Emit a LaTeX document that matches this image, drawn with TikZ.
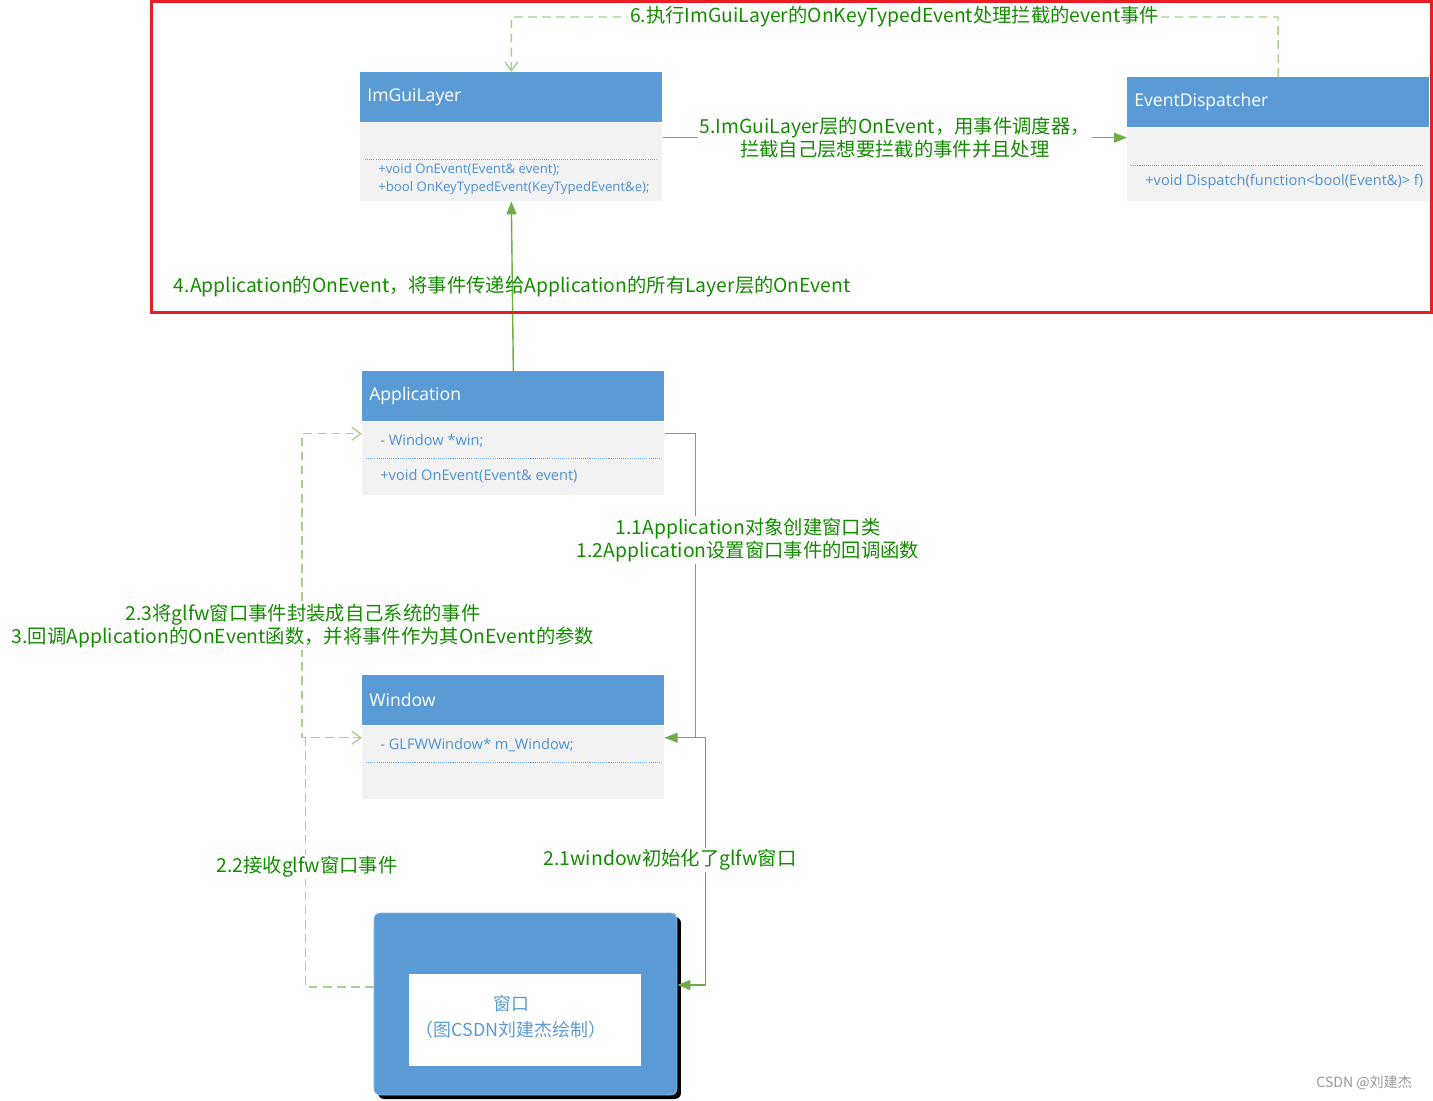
\documentclass[tikz,border=0pt]{standalone}
\usepackage{fontspec}
\usepackage{tikz}
\usetikzlibrary{positioning,arrows.meta,shadows}
\setmainfont{Open Sans}
\newfontfamily\cjk{Noto Sans CJK SC}
\definecolor{boxblue}{RGB}{91,155,213}
\definecolor{boxgray}{RGB}{242,242,242}
\definecolor{membblue}{RGB}{78,145,214}
\definecolor{linkgreen}{RGB}{112,173,71}
\definecolor{dashgreen}{RGB}{169,209,142}
\definecolor{lblgreen}{RGB}{20,140,0}
\definecolor{framered}{RGB}{237,28,36}

\begin{document}
\begin{tikzpicture}[x=0.02cm, y=-0.02cm,
    hdr/.style={anchor=north west, fill=boxblue, text=white, font=\fontsize{10}{12}\selectfont,
      minimum width=6.04cm, minimum height=1cm, text width=5.76cm, inner xsep=0.14cm, align=left},
    classbody/.style={fill=boxgray, minimum width=6.04cm, inner sep=0pt},
    member/.style={anchor=west, text=membblue, font=\fontsize{8.3}{10}\selectfont, inner sep=0pt},
    smallmember/.style={member, font=\fontsize{7.5}{9}\selectfont},
    sepline/.style={draw=membblue!80, line width=0.4pt, dash pattern=on 0.6pt off 0.6pt},
    solidlink/.style={draw=linkgreen, line width=0.8pt, -{Triangle[length=0.26cm, width=0.2cm]}},
    dashlink/.style={draw=dashgreen, line width=0.8pt, dash pattern=on 5pt off 3pt,
      -{Straight Barb[length=0.18cm, width=0.26cm]}},
    lbl/.style={text=lblgreen, font=\cjk\fontsize{11}{13.6}\selectfont, align=center, inner sep=1pt},
    glfwbox/.style={fill=boxblue, draw=boxblue!70, rounded corners=0.12cm,
      minimum width=6.06cm, minimum height=3.64cm,
      drop shadow={shadow xshift=0.08cm, shadow yshift=-0.08cm, fill=black, opacity=1}},
  ]
  \useasboundingbox (0,0) rectangle (1433,1100);

  % classes
  \node[hdr] (imgui) at (360,72) {ImGuiLayer};
  \node[classbody, minimum height=1.56cm, below=0pt of imgui] (imguib) {};
  \draw[sepline] (365,159) -- (657,159);
  \node[smallmember] (imguim1) at (378,170) {+void OnEvent(Event\& event);};
  \node[smallmember] (imguim2) at (378,188) {+bool OnKeyTypedEvent(KeyTypedEvent\&e);};

  \node[hdr] (disp) at (1127,77) {EventDispatcher};
  \node[classbody, minimum height=1.46cm, below=0pt of disp] (dispb) {};
  \draw[sepline] (1131,165) -- (1424,165);
  \node[member] (dispm1) at (1145,182) {+void Dispatch(function<bool(Event\&)> f)};

  \node[hdr] (app) at (362,371) {Application};
  \node[classbody, minimum height=1.46cm, below=0pt of app] (appb) {};
  \node[member] (appm1) at (380,441) {- Window *win;};
  \draw[sepline] (366,458) -- (660,458);
  \node[member] (appm2) at (380,476) {+void OnEvent(Event\& event)};

  \node[hdr] (win) at (362,675) {Window};
  \node[classbody, minimum height=1.46cm, below=0pt of win] (winb) {};
  \node[member] (winm1) at (380,745) {- GLFWWindow* m\_Window;};
  \draw[sepline] (366,762) -- (660,762);

  % la fenetre glfw
  \node[glfwbox] (glfw) at (525.5,1004) {};
  \node[fill=white, minimum width=4.64cm, minimum height=1.84cm] (glfwin) at (525,1020) {};
  \node[text=boxblue, font=\cjk\fontsize{10.2}{14.7}\selectfont, align=center] (glfwtxt) at (511,1017)
    {窗口\\（图CSDN刘建杰绘制）};

  % liens
  \coordinate (top6) at (1278,17);
  \draw[dashlink] (disp.north) -- (top6) -| (imgui.north)
    node[lbl, fill=white, pos=0.25] (l6) {6.执行ImGuiLayer的OnKeyTypedEvent处理拦截的event事件};
  \coordinate (c5) at ([yshift=-0.3cm]imguib.north east);
  \draw[solidlink] (c5) -- (c5 -| dispb.west)
    node[lbl, fill=white, midway] (l5) {5.ImGuiLayer层的OnEvent，用事件调度器，\\拦截自己层想要拦截的事件并且处理};
  \draw[solidlink] (app.north) -- (imguib.south)
    node[lbl, midway] (l4) {4.Application的OnEvent，将事件传递给Application的所有Layer层的OnEvent};
  \draw[solidlink] ([yshift=-0.24cm]appb.north east) -- +(31,0) |- ([yshift=-0.24cm]winb.north east);
  \draw[solidlink] ([yshift=-0.24cm]winb.north east) -- +(41,0) |- ([yshift=0.38cm]glfw.east);
  \draw[dashlink] ([yshift=-0.24cm]winb.north west) -- +(-60,0) |- ([yshift=-0.24cm]appb.north west);
  \draw[dashlink] ([yshift=0.34cm]glfw.west) -- +(-68,0) |- ([yshift=-0.24cm]winb.north west);

  \node[lbl, fill=white] (l1) at (748,540) {1.1Application对象创建窗口类\\1.2Application设置窗口事件的回调函数};
  \node[lbl, fill=white] (l3) at (303,626) {2.3将glfw窗口事件封装成自己系统的事件\\3.回调Application的OnEvent函数，并将事件作为其OnEvent的参数};
  \node[lbl, fill=white] (l22) at (307,867) {2.2接收glfw窗口事件};
  \node[lbl, fill=white] (l21) at (670,860) {2.1window初始化了glfw窗口};

  \draw[framered, line width=1.7pt] (151.5,1.5) rectangle (1431,312.5);
  \node[anchor=east, text=gray!80, font=\cjk\fontsize{8}{10}\selectfont] (mark) at (1418,1083) {CSDN @刘建杰};
\end{tikzpicture}
\end{document}
